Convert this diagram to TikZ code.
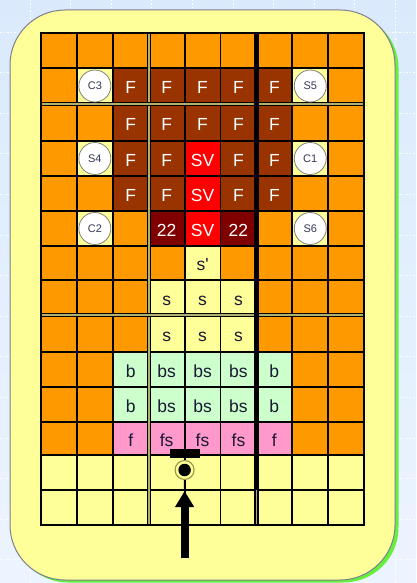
\documentclass[tikz,border=0pt]{standalone}
\usepackage{fontspec}
\setmainfont{Liberation Sans}
\usetikzlibrary{arrows.meta}
\definecolor{bgtop}{RGB}{218,234,252}
\definecolor{bgbot}{RGB}{236,244,255}
\definecolor{panel}{RGB}{255,255,153}
\definecolor{panelrim}{RGB}{125,125,145}
\definecolor{shadowgreen}{RGB}{102,240,60}
\definecolor{cellO}{RGB}{255,153,0}
\definecolor{cellF}{RGB}{153,51,0}
\definecolor{cellR}{RGB}{255,0,0}
\definecolor{cellD}{RGB}{128,0,0}
\definecolor{cellY}{RGB}{255,255,153}
\definecolor{cellG}{RGB}{204,255,204}
\definecolor{cellP}{RGB}{255,153,204}
\definecolor{khaki}{RGB}{176,176,112}
\definecolor{ringC}{RGB}{150,150,70}
\definecolor{darktext}{RGB}{25,25,50}
\definecolor{stationtext}{RGB}{55,55,85}
\begin{document}
\begin{tikzpicture}[x=1pt,y=-1pt,
  cellbox/.style={inner sep=0pt,outer sep=0pt,draw=none,minimum width=35.9pt},
  fillO/.style={fill=cellO}, fillF/.style={fill=cellF}, fillR/.style={fill=cellR},
  fillD/.style={fill=cellD}, fillY/.style={fill=cellY}, fillG/.style={fill=cellG},
  fillP/.style={fill=cellP},
  labtext/.style={inner sep=0pt,text height=15pt,text depth=0pt,font=\fontsize{17.5}{20}\selectfont},
  labwt/.style={labtext,text=white},
  labdk/.style={labtext,text=darktext},
  gridline/.style={draw=black,line width=1.9pt},
  dbl/.style={draw=black,line width=1.3pt,double=khaki,double distance=1.7pt},
  station/.style={circle,fill=white,draw=gray,line width=0.8pt,minimum size=32pt,inner sep=0pt,
    text=stationtext,text height=7.9pt,text depth=0pt,font=\fontsize{11}{12}\selectfont},
  bgdash/.style={draw=white,line width=0.8pt,dash pattern=on 1.5pt off 2pt}
]
\useasboundingbox (0,0) rectangle (416,583);
% background
\shade[top color=bgtop,bottom color=bgbot] (0,0) rectangle (416,583);
\foreach \k in {0,...,10} { \draw[bgdash] (30+40.6*\k,0) -- (30+40.6*\k,583); }
\foreach \k in {0,...,14} { \draw[bgdash] (0,32+40.6*\k) -- (416,32+40.6*\k); }
% panel
\fill[shadowgreen,rounded corners=55pt] (13,13) rectangle (398.5,582.5);
\draw[fill=panel,draw=panelrim,line width=1pt,rounded corners=55pt] (10,10) rectangle (395,580);
% cells
\foreach \r/\ya/\yb/\spec in {
  1/33/68/{O,O,O,O,O,O,O,O,O},
  2/68/104/{O,Y,F,F,F,F,F,Y,O},
  3/104/141/{O,O,F,F,F,F,F,O,O},
  4/141/176/{O,Y,F,F,R,F,F,Y,O},
  5/176/211/{O,O,F,F,R,F,F,O,O},
  6/211/246/{O,Y,O,D,R,D,O,Y,O},
  7/246/280/{O,O,O,O,Y,O,O,O,O},
  8/280/315/{O,O,O,Y,Y,Y,O,O,O},
  9/315/352/{O,O,O,Y,Y,Y,O,O,O},
  10/352/387/{O,O,G,G,G,G,G,O,O},
  11/387/422/{O,O,G,G,G,G,G,O,O},
  12/422/455/{O,O,P,P,P,P,P,O,O},
  13/455/490/{Y,Y,Y,Y,Y,Y,Y,Y,Y},
  14/490/525/{Y,Y,Y,Y,Y,Y,Y,Y,Y}}{
  \foreach \k [count=\c] in \spec {
    \pgfmathsetmacro\xc{41+(\c-0.5)*35.9}
    \pgfmathsetmacro\yc{(\ya+\yb)/2}
    \pgfmathsetmacro\hh{\yb-\ya}
    \node[cellbox,fill\k,minimum height=\hh pt] (cell-\r-\c) at (\xc,\yc) {};
  }
}
% grid lines
\foreach \i in {0,...,9} { \draw[gridline] (41+35.9*\i,33) -- (41+35.9*\i,525); }
\foreach \y in {33,68,141,176,211,246,280,352,387,422,455,490,525} { \draw[gridline] (41,\y) -- (364.1,\y); }
\draw[dbl] (148.7,33) -- (148.7,525);
\draw[dbl] (256.4,33) -- (256.4,525);
\draw[dbl] (40,104) -- (365,104);
\draw[dbl] (40,315) -- (365,315);
\draw[draw=black,line width=4.6pt] (256.4,33) -- (256.4,490);
\draw[draw=black,line width=2.4pt] (41,33) rectangle (364.1,525);
% labels
\foreach \r/\c/\t/\s in {
  2/3/F/wt,2/4/F/wt,2/5/F/wt,2/6/F/wt,2/7/F/wt,
  3/3/F/wt,3/4/F/wt,3/5/F/wt,3/6/F/wt,3/7/F/wt,
  4/3/F/wt,4/4/F/wt,4/5/SV/wt,4/6/F/wt,4/7/F/wt,
  5/3/F/wt,5/4/F/wt,5/5/SV/wt,5/6/F/wt,5/7/F/wt,
  6/4/22/wt,6/5/SV/wt,6/6/22/wt,
  7/5/s\textquotesingle/dk,
  8/4/s/dk,8/5/s/dk,8/6/s/dk,
  9/4/s/dk,9/5/s/dk,9/6/s/dk,
  10/3/b/dk,10/4/bs/dk,10/5/bs/dk,10/6/bs/dk,10/7/b/dk,
  11/3/b/dk,11/4/bs/dk,11/5/bs/dk,11/6/bs/dk,11/7/b/dk,
  12/3/f/dk,12/4/fs/dk,12/5/fs/dk,12/6/fs/dk,12/7/f/dk}{
  \node[lab\s] (t-\r-\c) at (cell-\r-\c) {\t};
}
% stations
\foreach \n/\r/\c in {C3/2/2,S5/2/8,S4/4/2,C1/4/8,C2/6/2,S6/6/8}{
  \node[station] (st-\n) at (cell-\r-\c) {\n};
}
% bottom device and arrow
\node[fill=black,minimum width=30pt,minimum height=9pt,inner sep=0pt] (bar) at (184.6,453.5) {};
\node[circle,draw=ringC,fill=cellY,line width=1.1pt,minimum size=19pt,inner sep=0pt] (ring) at (184.6,470) {};
\node[circle,fill=black,minimum size=12.5pt,inner sep=0pt] (dot) at (ring.center) {};
\draw[black,line width=1.6pt] (bar.south) -- (ring.north);
\draw[black,line width=1.6pt] (ring.south) -- (cell-13-4.south east);
\coordinate (tail) at (184.6,558);
\coordinate (tip) at (184.6,491);
\draw[black,line width=8pt,-{Triangle[width=18pt,length=16pt]}] (tail) -- (tip);
\end{tikzpicture}
\end{document}
